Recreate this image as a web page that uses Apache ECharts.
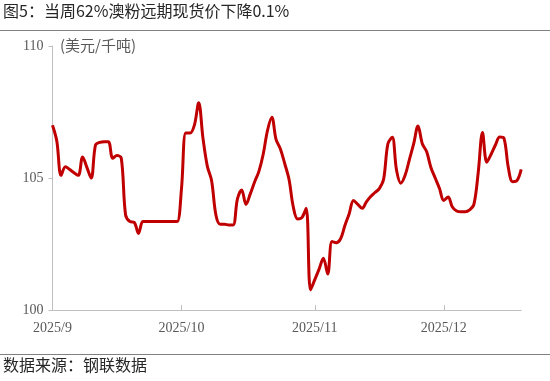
<!DOCTYPE html>
<html><head><meta charset="utf-8">
<script src="https://cdn.jsdelivr.net/npm/echarts@6/dist/echarts.min.js"></script>
<style>html,body{margin:0;padding:0;background:#fff}#c{width:550px;height:381px}</style>
</head><body><div id="c"></div>
<script>
// Daily series starting 2025-09-01 (one value per calendar day)
const startDate = '2025-09-01';
const prices = [
107.0,106.4,105.1,105.43,105.32,105.2,105.1,105.8,105.4,105.0,
106.25,106.35,106.37,106.37,105.75,105.85,105.75,103.6,103.35,103.32,
102.9,103.35,103.35,103.35,103.35,103.35,103.35,103.35,103.35,103.35,
104.6,106.7,106.7,107.0,107.85,106.5,105.45,104.9,103.6,103.25,
103.25,103.22,103.22,104.2,104.55,104.0,104.4,104.85,105.25,105.9,
106.8,107.3,106.45,106.1,105.55,104.95,103.9,103.45,103.5,103.85,
100.76,101.15,101.55,101.96,101.36,102.59,102.55,102.7,103.2,103.65,
104.15,104.0,103.85,104.1,104.3,104.45,104.6,104.95,106.3,106.54,
105.3,104.8,105.1,105.7,106.3,106.97,106.3,106.0,105.4,105.0,
104.6,104.15,104.28,103.9,103.75,103.72,103.72,103.79,104.0,105.2,
106.72,105.6,105.9,106.25,106.55,106.5,105.4,104.86,104.9,105.33
];
const yTicks = [100, 105, 110];
const titleText = '图5：当周62%澳粉远期现货价下降0.1%';
const unitText = '(美元/千吨)';
const sourceText = '数据来源：钢联数据';

const categories = [];
const d0 = new Date(startDate + 'T00:00:00Z');
for (let i = 0; i < prices.length; i++) {
  const d = new Date(d0.getTime() + i * 86400000);
  categories.push(d.getUTCFullYear() + '/' + (d.getUTCMonth() + 1) + '/' + d.getUTCDate());
}
const isMonthStart = (idx, val) => String(val).split('/')[2] === '1';

const chart = echarts.init(document.getElementById('c'));
chart.setOption({
  animation: false,
  backgroundColor: '#fff',
  grid: { left: 52.5, right: 28.8, top: 46, bottom: 71 },
  graphic: [
    { type: 'text', left: 3, top: 3, style: { text: titleText, font: '16px "Noto Sans CJK SC"', fill: '#262626' } },
    { type: 'line', shape: { x1: 0, y1: 30.5, x2: 550, y2: 30.5 }, style: { stroke: '#808080', lineWidth: 1 } },
    { type: 'text', left: 60, top: 38, style: { text: unitText, font: '15px "Noto Sans CJK SC"', fill: '#595959' } },
    { type: 'line', shape: { x1: 0, y1: 354.5, x2: 550, y2: 354.5 }, style: { stroke: '#808080', lineWidth: 1 } },
    { type: 'text', left: 3, top: 357, style: { text: sourceText, font: '16px "Noto Sans CJK SC"', fill: '#262626' } }
  ],
  xAxis: {
    type: 'category',
    data: categories,
    boundaryGap: false,
    axisLine: { lineStyle: { color: '#bfbfbf', width: 1 } },
    axisTick: { inside: true, length: 5, interval: isMonthStart, lineStyle: { color: '#bfbfbf' } },
    axisLabel: {
      interval: isMonthStart, margin: 11,
      fontFamily: 'Liberation Serif', fontSize: 14, color: '#595959',
      formatter: v => v.split('/').slice(0, 2).join('/')
    },
    splitLine: { show: false }
  },
  yAxis: {
    type: 'value',
    min: yTicks[0], max: yTicks[yTicks.length - 1], interval: 5,
    axisLine: { show: true, lineStyle: { color: '#bfbfbf', width: 1 } },
    axisTick: { show: true, length: 4, lineStyle: { color: '#bfbfbf' } },
    axisLabel: { margin: 9, fontFamily: 'Liberation Serif', fontSize: 14, color: '#595959' },
    splitLine: { show: false }
  },
  series: [{
    type: 'line',
    data: prices,
    smooth: 0.35,
    symbol: 'none',
    lineStyle: { color: '#C00000', width: 3 }
  }]
});
</script></body></html>
